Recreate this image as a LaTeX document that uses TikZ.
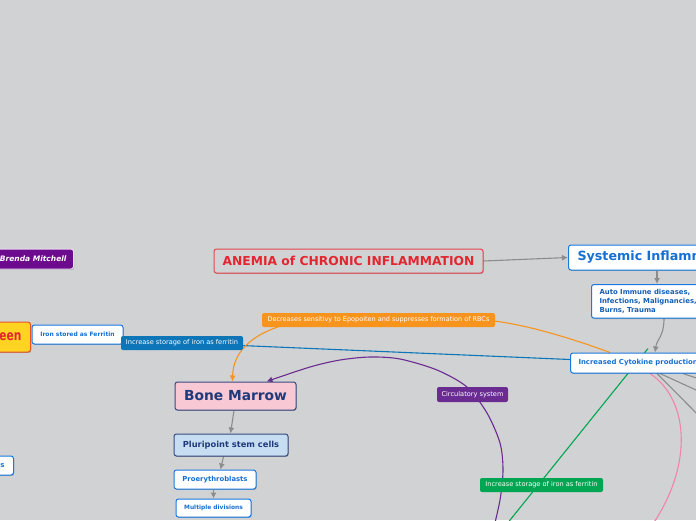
\documentclass[tikz,border=0pt]{standalone}
\usepackage{fontspec}
\newfontfamily\dv{DejaVu Sans}
\usetikzlibrary{arrows.meta,shadows,calc}
\definecolor{bgc}{HTML}{D1D2D4}
\definecolor{grayc}{HTML}{8C8C8C}
\definecolor{redc}{HTML}{E32530}
\definecolor{redb}{HTML}{E5474F}
\definecolor{bluec}{HTML}{1670D4}
\definecolor{blueb}{HTML}{1A78E0}
\definecolor{navyc}{HTML}{1F3A7A}
\definecolor{navyb}{HTML}{3A4A80}
\definecolor{pinkf}{HTML}{F8C8D4}
\definecolor{pluf}{HTML}{C6DDF2}
\definecolor{orangec}{HTML}{F7941D}
\definecolor{purplec}{HTML}{6A2C91}
\definecolor{greenc}{HTML}{00A651}
\definecolor{bluelab}{HTML}{0C76B9}
\definecolor{yellowf}{HTML}{FFD321}
\definecolor{yellowb}{HTML}{E8542A}
\definecolor{brendaf}{HTML}{6C0B8E}
\definecolor{pinkc}{HTML}{F283AA}
\newcommand\fsz[2]{\fontsize{#1}{#2}\selectfont}
\pgfdeclarelayer{back}
\pgfdeclarelayer{edges}
\pgfsetlayers{back,edges,main}
\begin{document}
\begin{tikzpicture}[x=1pt,y=-1pt,
  box/.style={draw, rounded corners=2.5pt, line width=1pt, inner sep=0pt,
    drop shadow={shadow xshift=0.7pt,shadow yshift=-0.9pt,opacity=0.25,fill=black}},
  wbox/.style={box, fill=white, draw=blueb, text=bluec},
  lab/.style={rounded corners=2pt, inner sep=0pt, text=white, font=\dv\fsz{6.6}{8}},
  conn/.style={draw=grayc, line width=1.1pt},
  arrowend/.style={-{Latex[length=6pt,width=6pt]}}
]
\useasboundingbox (0,0) rectangle (696,520);
\clip (0,0) rectangle (696,520);
\begin{pgfonlayer}{back}
\fill[bgc] (0,0) rectangle (696,520);
\end{pgfonlayer}

% nodes
\node[box, fill=bgc, draw=redb, text=redc, font=\dv\bfseries\fsz{12.3}{14},
  minimum width=269pt, minimum height=24pt] (title) at (348.5,261) {ANEMIA of CHRONIC INFLAMMATION};
\node[wbox, anchor=west, inner xsep=9pt, minimum height=25pt, font=\dv\bfseries\fsz{12.7}{14}]
  (sys) at (568,257.5) {Systemic Inflammation};
\node[wbox, anchor=north west, align=left, inner xsep=8pt, inner ysep=5pt, text=bluec!85!black,
  font=\dv\bfseries\fsz{6.9}{8.7}] (auto) at (591,284) {Auto Immune diseases,\\Infections, Malignancies,\\Burns, Trauma};
\node[wbox, anchor=west, inner xsep=8pt, minimum height=20pt, font=\dv\bfseries\fsz{6.9}{8}]
  (cyto) at (570,363) {Increased Cytokine production};
\node[box, fill=brendaf, draw=white!85!brendaf, text=white, anchor=east, inner xsep=7pt,
  minimum height=20pt, font=\dv\bfseries\itshape\fsz{7.5}{9}] (brenda) at (74,259) {Brenda Mitchell};
\node[box, fill=yellowf, draw=yellowb, text=redc, anchor=east, inner xsep=9pt,
  minimum height=30pt, font=\dv\bfseries\fsz{14}{16}] (spleen) at (31,337) {\scalebox{0.76}[1]{een}};
\node[wbox, minimum width=91pt, minimum height=19pt, font=\dv\bfseries\fsz{6}{7}]
  (iron) at (77.5,334.5) {Iron stored as Ferritin};
\node[wbox, anchor=east, inner xsep=9pt, minimum height=19pt, font=\dv\bfseries\fsz{7}{8}]
  (sbox) at (14,465.5) {s};
\node[box, fill=pinkf, draw=navyb, text=navyc, minimum width=121pt, minimum height=28pt,
  font=\dv\bfseries\fsz{13.8}{16}] (bm) at (235.5,396) {Bone Marrow};
\node[box, fill=pluf, draw=navyb, text=navyc, minimum width=114pt, minimum height=22pt,
  font=\dv\bfseries\fsz{8.3}{10}] (pluri) at (231,445) {Pluripoint stem cells};
\node[wbox, minimum width=82pt, minimum height=19pt, font=\dv\bfseries\fsz{6.85}{8}]
  (proery) at (215,479.5) {Proerythroblasts};
\node[wbox, minimum width=75pt, minimum height=18pt, font=\dv\bfseries\fsz{5.9}{7}]
  (multi) at (213.5,508) {Multiple divisions};

% labels
\node[lab, fill=bluelab, minimum width=122pt, minimum height=14pt] (lblue) at (182,343) {Increase storage of iron as ferritin};
\node[lab, fill=orangec, minimum width=233pt, minimum height=14pt, font=\dv\fsz{6.5}{8}] (lorange) at (378.5,320) {Decreases sensitivy to Epopoiten and suppresses formation of RBCs};
\node[lab, fill=purplec, minimum width=71pt, minimum height=15pt] (lcirc) at (472.5,394.5) {Circulatory system};
\node[lab, fill=greenc, minimum width=123pt, minimum height=14pt] (lgreen) at (541.5,485) {Increase storage of iron as ferritin};

% free ends
\coordinate (g1) at (720,401);
\coordinate (g2) at (720,437);
\coordinate (g3) at (720,386);
\coordinate (pk) at (645,535);
\coordinate (gr) at (490,545);
\coordinate (pu) at (492,535);

\begin{pgfonlayer}{edges}
\draw[conn,arrowend] (title.east) -- (sys.west);
\draw[conn,arrowend] ([xshift=89pt]sys.south west) -- ([xshift=66pt]auto.north west);
\draw[conn,arrowend] ([xshift=73pt]auto.south west) .. controls ([xshift=73pt,yshift=-18pt]auto.south west) and ([xshift=87pt,yshift=14pt]cyto.north west) .. ([xshift=85pt]cyto.north west);
\draw[conn,arrowend] (bm.south -| 234,0) -- ([xshift=57pt]pluri.north west);
\draw[conn,arrowend] ([xshift=50pt]pluri.south west) -- ([xshift=47pt]proery.north west);
\draw[conn,arrowend] ([xshift=40pt]proery.south west) -- ([xshift=38pt]multi.north west);
\draw[conn] ([xshift=90pt]cyto.south west) -- (g1);
\draw[conn] ([xshift=87pt]cyto.south west) -- (g2);
\draw[conn] ([xshift=113pt]cyto.south west) -- (g3);
\draw[draw=pinkc, line width=1.1pt] ([xshift=80pt]cyto.south west) .. controls (690,400) and (695,470) .. (pk);
\draw[draw=greenc, line width=1.1pt] (gr) -- ([xshift=78pt,yshift=4pt]cyto.north west);
\draw[draw=bluelab, line width=1.1pt] ([yshift=3.5pt]cyto.west) -- ([yshift=-6pt]iron.east);
\draw[draw=orangec, line width=1.1pt, arrowend] ([xshift=40pt]cyto.north west) .. controls (565,336) and (520,323) .. (485,320) -- (300,321) .. controls (255,330) and (233,350) .. ([xshift=58pt]bm.north west);
\draw[draw=purplec, line width=1.1pt, arrowend] plot[smooth] coordinates {(pu) (500,500) (503,470) (500,443) (487,413) (467,387) (437,370) (400,359) (370,357) (340,360) (310,367) ([xshift=92pt]bm.north west)};
\end{pgfonlayer}
\end{tikzpicture}
\end{document}
